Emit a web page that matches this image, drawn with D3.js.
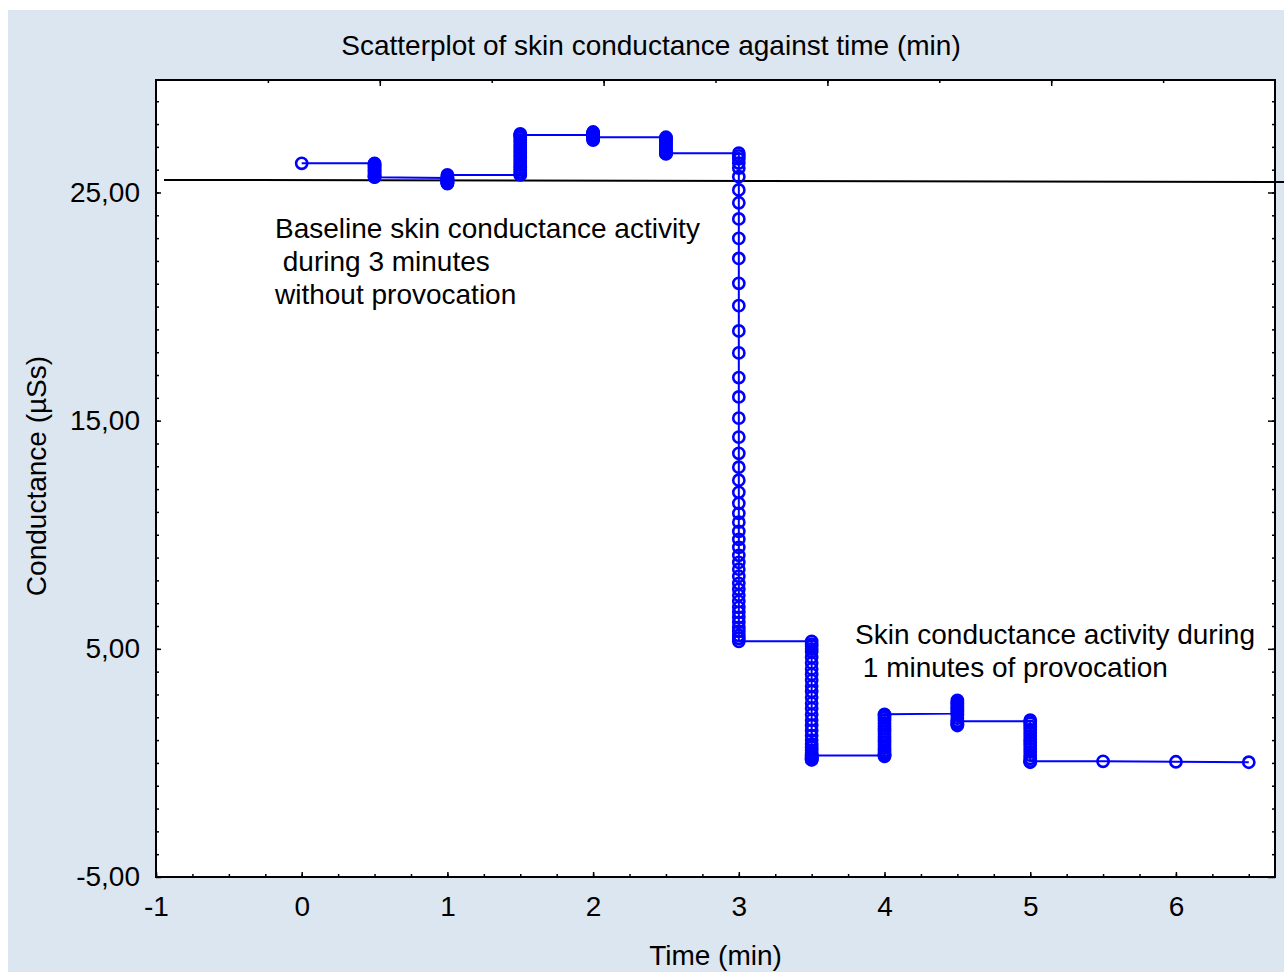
<!DOCTYPE html>
<html>
<head>
<meta charset="utf-8">
<script src="https://cdn.jsdelivr.net/npm/d3@7"></script>
<style>
  body { margin: 0; background: #fff; }
  text { font-family: "Liberation Sans", Arial, sans-serif; fill: #000; }
</style>
</head>
<body>
<div id="chart"></div>
<script>
// time points (min) and the conductance samples recorded at each of them
var times = [0, 0.5, 1, 1.5, 2, 2.5, 3, 3.5, 4, 4.5, 5, 5.5, 6, 6.5];
var c00 = [26.28];
var c05 = [26.28, 26.24, 26.2, 26.14, 26.09, 26.03, 25.98, 25.92, 25.86, 25.81, 25.76, 25.71, 25.68, 25.67];
var c10 = [25.64, 25.6, 25.55, 25.5, 25.46, 25.42, 25.39, 25.41, 25.46, 25.52, 25.58, 25.64, 25.7, 25.77];
var c15 = [25.77, 25.81, 25.9, 26.0, 26.1, 26.2, 26.31, 26.42, 26.53, 26.64, 26.75, 26.86, 26.97, 27.08, 27.19, 27.3, 27.41, 27.5, 27.57, 27.52];
var c20 = [27.52, 27.57, 27.62, 27.65, 27.6, 27.52, 27.44, 27.36, 27.3, 27.34, 27.42];
var c25 = [27.42, 27.39, 27.33, 27.26, 27.18, 27.1, 27.02, 26.94, 26.86, 26.79, 26.72, 26.69, 26.72];
var c30 = [26.72, 26.6, 26.47, 26.29, 26.07, 25.69, 25.11, 24.55, 23.84, 22.99, 22.11, 21.02, 20.04, 18.93, 17.97, 16.89,
           16.04, 15.11, 14.28, 13.57, 12.96, 12.39, 11.86, 11.38, 10.94, 10.55, 10.15, 9.8, 9.45, 9.1, 8.79, 8.49,
           8.18, 7.87, 7.61, 7.35, 7.08, 6.82, 6.6, 6.38, 6.16, 5.94, 5.77, 5.59, 5.46, 5.33];
var c35 = [5.33, 5.21, 5.12, 4.99, 4.87, 4.63, 4.38, 4.12, 3.88, 3.62, 3.37, 3.13, 2.88, 2.62, 2.38, 2.12, 1.88, 1.64, 1.42,
           1.2, 1.0, 0.83, 0.68, 0.55, 0.44, 0.35, 0.27, 0.2, 0.15, 0.13, 0.18, 0.25, 0.33];
var c40 = [0.33, 0.29, 0.36, 0.45, 0.55, 0.66, 0.78, 0.9, 1.02, 1.14, 1.26, 1.38, 1.5, 1.62, 1.74, 1.86, 1.98, 2.08, 2.13];
var c45 = [2.16, 2.3, 2.45, 2.6, 2.74, 2.66, 2.52, 2.38, 2.24, 2.1, 1.96, 1.82, 1.7, 1.64, 1.72, 1.83];
var c50 = [1.83, 1.87, 1.74, 1.6, 1.46, 1.32, 1.18, 1.04, 0.9, 0.76, 0.62, 0.48, 0.34, 0.2, 0.08, 0.03, 0.07];
var c55 = [0.07];
var c60 = [0.05];
var c65 = [0.03];
var samples = [c00, c05, c10, c15, c20, c25, c30, c35, c40, c45, c50, c55, c60, c65];

// reference line drawn across the plot
var refLine = [[-0.945, 25.55], [6.742, 25.46]];

var yMajorTicks = [-5, 5, 15, 25];
var xMajorTicks = [-1, 0, 1, 2, 3, 4, 5, 6];

var W = 1284, H = 974;
var pLeft = 156, pRight = 1275, pTop = 80, pBottom = 877;
var fontSize = 28;

var svg = d3.select('#chart').append('svg').attr('width', W).attr('height', H);

svg.append('rect').attr('x', 8).attr('y', 10).attr('width', W - 8).attr('height', H - 12)
    .attr('fill', '#dce6f1');
svg.append('rect').attr('x', pLeft).attr('y', pTop).attr('width', pRight - pLeft).attr('height', pBottom - pTop)
    .attr('fill', '#fff');

var x = d3.scaleLinear().domain([-1, 6.68]).range([pLeft, pRight]);
var y = d3.scaleLinear().domain([-5, 29.93]).range([pBottom, pTop]);
var xTop = d3.scaleLinear().domain([0, 10]).range([pLeft, pRight]);

var fmtY = function (d) { return d.toFixed(2).replace('.', ','); };
var fmtX = function (d) { return String(d); };

// bottom axis
svg.append('g').attr('transform', 'translate(0,' + pBottom + ')')
    .call(d3.axisBottom(x).tickValues(d3.range(-1, 6.6, 0.25)).tickSize(-3).tickFormat(''));
svg.append('g').attr('class', 'xaxis').attr('transform', 'translate(0,' + pBottom + ')')
    .call(d3.axisBottom(x).tickValues(xMajorTicks).tickSize(-5).tickPadding(19).tickFormat(fmtX));
// top axis
svg.append('g').attr('transform', 'translate(0,' + pTop + ')')
    .call(d3.axisTop(xTop).tickValues(d3.range(1, 10)).tickSize(-3).tickFormat(''));
svg.append('g').attr('transform', 'translate(0,' + pTop + ')')
    .call(d3.axisTop(xTop).tickValues([2, 4, 6, 8]).tickSize(-6).tickFormat(''));
// left axis
svg.append('g').attr('transform', 'translate(' + pLeft + ',0)')
    .call(d3.axisLeft(y).tickValues(d3.range(-4, 30, 1)).tickSize(-3).tickFormat(''));
svg.append('g').attr('class', 'yaxis').attr('transform', 'translate(' + pLeft + ',0)')
    .call(d3.axisLeft(y).tickValues(yMajorTicks).tickSize(-5).tickPadding(16).tickFormat(fmtY));
// right axis
svg.append('g').attr('transform', 'translate(' + pRight + ',0)')
    .call(d3.axisRight(y).tickValues(d3.range(-4, 30, 1)).tickSize(-3).tickFormat(''));
svg.append('g').attr('transform', 'translate(' + pRight + ',0)')
    .call(d3.axisRight(y).tickValues(yMajorTicks).tickSize(-7).tickFormat(''));

svg.selectAll('.domain').remove();
svg.selectAll('.tick line').attr('stroke', '#000').attr('stroke-width', 1.5);
svg.selectAll('.xaxis text, .yaxis text').attr('font-size', fontSize)
    .attr('font-family', '"Liberation Sans", Arial, sans-serif');

// plot frame
svg.append('rect').attr('x', pLeft).attr('y', pTop).attr('width', pRight - pLeft).attr('height', pBottom - pTop)
    .attr('fill', 'none').attr('stroke', '#000').attr('stroke-width', 2);

// flatten samples into ordered points
var points = [];
samples.forEach(function (arr, i) {
    arr.forEach(function (v) { points.push({t: times[i], c: v}); });
});

var line = d3.line().x(function (d) { return x(d.t); }).y(function (d) { return y(d.c); });

svg.append('path').datum(refLine)
    .attr('d', d3.line().x(function (d) { return x(d[0]); }).y(function (d) { return y(d[1]); }))
    .attr('stroke', '#000').attr('stroke-width', 2).attr('fill', 'none');

svg.append('path').datum(points).attr('d', line)
    .attr('fill', 'none').attr('stroke', '#0000ff').attr('stroke-width', 2);

svg.selectAll('circle.pt').data(points).enter().append('circle')
    .attr('class', 'pt')
    .attr('cx', function (d) { return x(d.t); })
    .attr('cy', function (d) { return y(d.c); })
    .attr('r', 5.6)
    .attr('fill', 'none').attr('stroke', '#0000ff').attr('stroke-width', 2.6);

// texts
svg.append('text').attr('x', 651).attr('y', 55).attr('text-anchor', 'middle').attr('font-size', fontSize)
    .text('Scatterplot of skin conductance against time (min)');
svg.append('text').attr('x', (pLeft + pRight) / 2).attr('y', 965).attr('text-anchor', 'middle').attr('font-size', fontSize)
    .text('Time (min)');
svg.append('text').attr('transform', 'translate(46,' + 476 + ') rotate(-90)').attr('text-anchor', 'middle')
    .attr('font-size', fontSize).text('Conductance (µSs)');

var note1 = ['Baseline skin conductance activity', '\u00a0during 3 minutes', 'without provocation'];
var note2 = ['Skin conductance activity during', '\u00a01 minutes of provocation'];
note1.forEach(function (s, i) {
    svg.append('text').attr('x', 275).attr('y', 238 + i * 33).attr('font-size', fontSize).text(s);
});
note2.forEach(function (s, i) {
    svg.append('text').attr('x', 855).attr('y', 644 + i * 33).attr('font-size', fontSize).text(s);
});
</script>
</body>
</html>
